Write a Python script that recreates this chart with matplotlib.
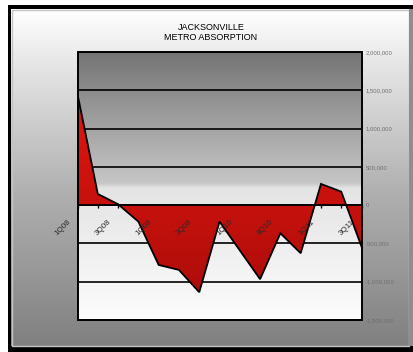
import numpy as np
import matplotlib
matplotlib.use('Agg')
import matplotlib.pyplot as plt
from matplotlib.patches import Rectangle, PathPatch

plt.rcParams['font.family'] = ['Liberation Sans', 'DejaVu Sans']

quarters = ['1Q08', '2Q08', '3Q08', '4Q08', '1Q09', '2Q09', '3Q09', '4Q09',
            '1Q10', '2Q10', '3Q10', '4Q10', '1Q11', '2Q11', '3Q11']
absorption = [1450000, 146000, 12000, -215000, -781000, -846000, -1137000, -215000,
              -591000, -967000, -367000, -628000, 277000, 176000, -542000]
ytick_values = [2000000, 1500000, 1000000, 500000, 0, -500000, -1000000, -1500000]


def fmt(v):
    if v < 0:
        return '-{:,}'.format(-v)
    return '{:,}'.format(v)


def gray_gradient(stops_t, stops_v, n=256):
    t = np.linspace(0, 1, n)
    v = np.interp(t, stops_t, stops_v) / 255.0
    return np.dstack([v, v, v]).reshape(n, 1, 3)


fig = plt.figure(figsize=(4.13, 3.52), dpi=100)
fig.patch.set_facecolor('white')

# background frame, in pixel coords
bg = fig.add_axes([0, 0, 1, 1], zorder=-1)
bg.axis('off')
bg.add_patch(Rectangle((8, 5), 420, 360, facecolor='black', edgecolor='none', zorder=1))
outer = gray_gradient([0, 0.15, 0.55, 0.75, 1], [255, 232, 175, 155, 128])
bg.imshow(outer, extent=(11, 409, 346, 9), aspect='auto', interpolation='bilinear', zorder=2)
bg.add_patch(Rectangle((12, 9.5), 397, 336, facecolor='none', edgecolor='#c4c4c4', lw=1, zorder=3))
bg.add_patch(Rectangle((409, 9), 4, 337, facecolor='#8e8e8e', edgecolor='none', zorder=3))
bg.set_xlim(0, 413)
bg.set_ylim(352, 0)

fig.text(0.511, 0.908, 'JACKSONVILLE\nMETRO ABSORPTION', ha='center', va='center',
         fontsize=6.5, linespacing=1.25, color='black')

ax = fig.add_axes([0.1877, 0.0909, 0.6877, 0.7614])
x = np.arange(len(quarters))
y = np.array(absorption)
ymin, ymax = -1500000, 2000000

# plot area gradient (dark on top, white at the bottom)
inner = gray_gradient([0, 0.49, 0.51, 1], [116, 198, 228, 252])
ax.imshow(inner, extent=(0, len(x) - 1, ymin, ymax), aspect='auto',
          interpolation='bilinear', zorder=0)

# gridlines
for v in ytick_values:
    ax.axhline(v, color='black', lw=1.2, zorder=1)

# red area with a vertical gradient
fill = ax.fill_between(x, 0, y, facecolor='none', edgecolor='none')
red = np.zeros((256, 1, 3))
t = np.linspace(0, 1, 256)
top_c = np.array([0xf0, 0x18, 0x10]) / 255.0
bot_c = np.array([0xa6, 0x0c, 0x0a]) / 255.0
for i in range(3):
    red[:, 0, i] = top_c[i] + (bot_c[i] - top_c[i]) * t
im = ax.imshow(red, extent=(0, len(x) - 1, ymin, ymax), aspect='auto',
               interpolation='bilinear', zorder=2)
for p in fill.get_paths():
    patch = PathPatch(p, transform=ax.transData, facecolor='none', edgecolor='none')
    ax.add_patch(patch)
    im.set_clip_path(patch)
ax.plot(x, y, color='black', lw=1.3, zorder=4, solid_joinstyle='miter')

ax.set_xlim(0, len(x) - 1)
ax.set_ylim(ymin, ymax)

# category axis sits on zero
ax.spines['bottom'].set_position(('data', 0))
ax.spines['bottom'].set_linewidth(1.3)
ax.spines['bottom'].set_zorder(5)
for s in ['top', 'left', 'right']:
    ax.spines[s].set_visible(False)
ax.add_patch(Rectangle((0, 0), 1, 1, transform=ax.transAxes, fill=False,
                       edgecolor='black', lw=1.4, zorder=6, clip_on=False))
ax.set_xticks(x)
ax.set_xticklabels([])
ax.tick_params(axis='x', direction='out', length=2.5, width=1, color='black')

for i, q in enumerate(quarters):
    if i % 2 == 0:
        ax.annotate(q, xy=(x[i], 0), xytext=(-5.5 * 0.72, -13 * 0.72),
                    textcoords='offset points', rotation=45, ha='right', va='top',
                    fontsize=5.8, color='#2a2a2a', annotation_clip=False, zorder=7)

ax.yaxis.tick_right()
ax.set_yticks(ytick_values)
ax.set_yticklabels([fmt(v) for v in ytick_values])
ax.tick_params(axis='y', length=0, pad=3.2, labelsize=4.3, labelcolor='#707070')

fig.savefig('out.png', dpi=100)
